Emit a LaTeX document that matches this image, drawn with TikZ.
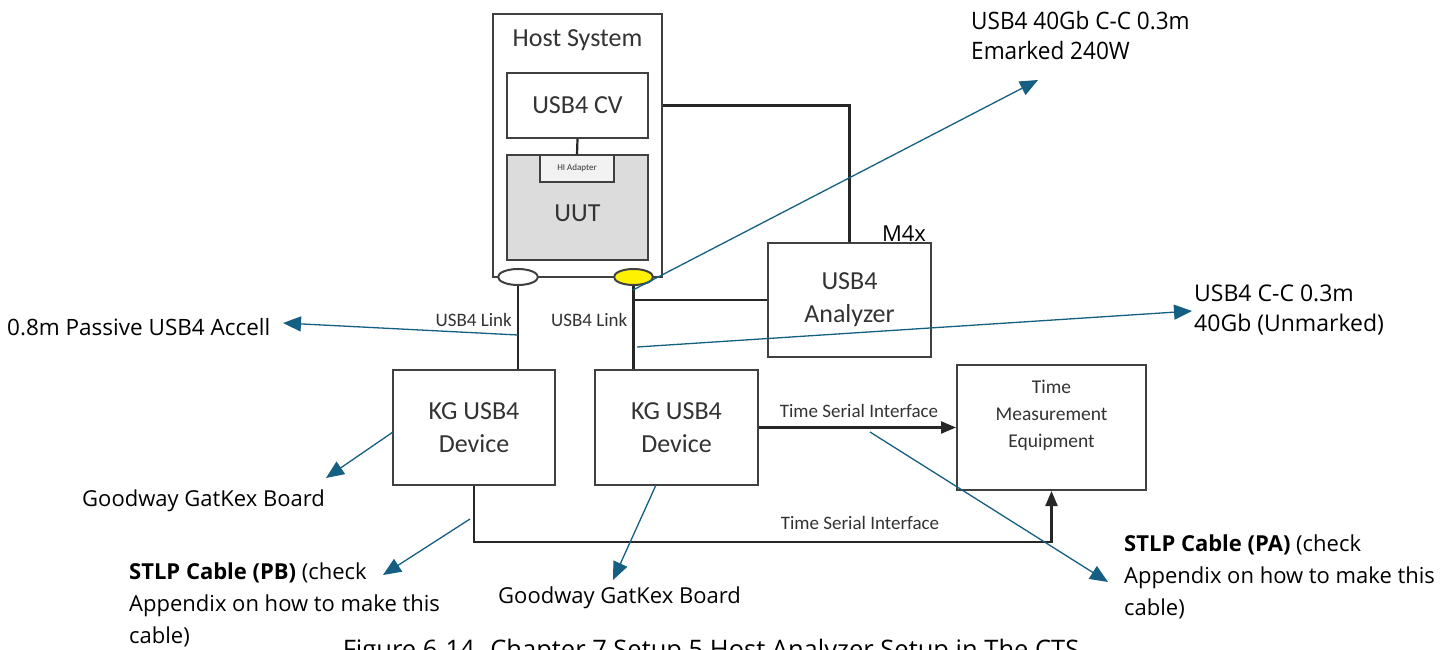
\documentclass[tikz,border=0pt]{standalone}
\usepackage{fontspec}
\setmainfont{Carlito}
\newfontfamily\ann{Open Sans}
\newfontfamily\annn[FakeStretch=0.94]{Open Sans}
\usetikzlibrary{arrows.meta,shapes.geometric}
\definecolor{ablue}{RGB}{21,96,130}
\definecolor{boxgray}{RGB}{64,64,64}
\definecolor{uutgray}{RGB}{220,220,220}
\definecolor{hiagray}{RGB}{242,242,242}
\begin{document}
\begin{tikzpicture}[x=1pt,y=-1pt,
  blk/.style={draw=boxgray,line width=2pt,fill=white,inner sep=0pt,align=center,
    font=\fontsize{26}{33}\selectfont,text=black!80},
  txt/.style={inner sep=0pt,align=center,text=black!80},
  lbl/.style={inner sep=0pt,font=\fontsize{19}{22}\selectfont,text=black!80},
  annot/.style={inner sep=0pt,font=\ann\fontsize{22}{32}\selectfont,align=left},
  annotn/.style={inner sep=0pt,font=\annn\fontsize{24}{30}\selectfont,align=left},
  conn/.style={line width=2.2pt,black!85},
  bar/.style={-{Triangle[length=15pt,width=12pt]},line width=2.2pt,black!85},
  callout/.style={ablue,line width=1.3pt,-{Triangle[length=18pt,width=15pt]}}]
\clip (0,0) rectangle (1452,650);
\fill[white] (0,0) rectangle (1452,650);

% host system
\node[blk,minimum width=169pt,minimum height=263pt] (host) at (577.5,145.5) {};
\node[txt,font=\fontsize{26}{30}\selectfont] (hostlbl) at (577.5,40) {Host System};
\node[blk,minimum width=141pt,minimum height=65pt] (cv) at (577.5,105.5) {USB4 CV};
\node[blk,fill=uutgray,minimum width=141pt,minimum height=105pt] (uut) at (577.5,207.5) {};
\node[txt,font=\fontsize{26}{30}\selectfont] (uutlbl) at (577.5,213) {UUT};
\node[blk,fill=hiagray,line width=1.4pt,minimum width=74pt,minimum height=27pt,font=\fontsize{9}{10}\selectfont] (hia) at (577,168.5) {HI Adapter};
\draw[conn] (cv.south) -- (hia.north);

% cable ellipses
\node[draw=boxgray,line width=2pt,fill=white,ellipse,minimum width=40pt,minimum height=16pt,inner sep=0pt] (ell1) at (518,277) {};
\node[draw=boxgray,line width=2pt,fill=yellow,ellipse,minimum width=39pt,minimum height=16pt,inner sep=0pt] (ell2) at (633.5,277) {};

% analyzer
\node[blk,minimum width=163pt,minimum height=114pt] (ana) at (849.5,300) {USB4\\Analyzer};
\node[annot,anchor=base] (m4x) at (904,241) {M4x};

% devices
\node[blk,minimum width=162pt,minimum height=115pt] (kg1) at (474,427.5) {KG USB4\\Device};
\node[blk,minimum width=163pt,minimum height=115pt] (kg2) at (676.5,427.5) {KG USB4\\Device};
\node[blk,minimum width=189pt,minimum height=125pt] (tme) at (1051.5,427.5) {};
\node[txt,font=\fontsize{19.5}{27}\selectfont] (tmelbl) at (1051.5,415.5) {Time\\Measurement\\Equipment};

% connections
\draw[conn] (host.east |- cv.center) -| (ana.north);
\draw[conn] (ell1.south) -- (ell1.south |- kg1.north);
\draw[conn] (ell2.south) -- (ell2.south |- kg2.north);
\draw[conn] (ell2.south |- ana.west) -- (ana.west);
\draw[bar] (kg2.east) -- (tme.west);
\coordinate (tsi) at (474,542);
\draw[bar] (kg1.south) -- (tsi) -| (tme.south);

\node[lbl,anchor=east] (link1) at (512,320) {USB4 Link};
\node[lbl,anchor=west] (link2) at (551,320) {USB4 Link};
\node[lbl] (tsi1) at (859,411) {Time Serial Interface};
\node[lbl] (tsi2) at (860,523) {Time Serial Interface};

% annotation texts
\node[annot,anchor=west,font=\ann\fontsize{22.5}{32}\selectfont] (acc) at (7,327) {0.8m Passive USB4 Accell};
\node[annotn,anchor=north west] (em) at (971,11) {USB4 40Gb C-C 0.3m\\Emarked 240W};
\node[annot,anchor=north west,font=\ann\fontsize{23}{30}\selectfont] (unm) at (1194,285) {USB4 C-C 0.3m\\40Gb (Unmarked)};
\node[annot,anchor=west] (gw1) at (82,501) {Goodway GatKex Board};
\node[annot,anchor=north west] (pb) at (129,563) {\textbf{STLP Cable (PB)} (check\\Appendix on how to make this\\cable)};
\node[annot,anchor=west] (gw2) at (498,598) {Goodway GatKex Board};
\node[annot,anchor=north west] (pa) at (1124,535) {\textbf{STLP Cable (PA)} (check\\Appendix on how to make this\\cable)};
\node[annot,anchor=base,font=\ann\fontsize{25.5}{28}\selectfont] (cap) at (711,658) {Figure 6-14. Chapter 7 Setup 5 Host Analyzer Setup in The CTS};

% callout arrows
\coordinate (s1) at (518,335); \coordinate (t1) at (283,323);
\coordinate (s2) at (633,290); \coordinate (t2) at (1038,80);
\coordinate (s3) at (637,347); \coordinate (t3) at (1192,311);
\coordinate (s4) at (393,432); \coordinate (t4) at (326,478);
\coordinate (s5) at (470,519); \coordinate (t5) at (383,575);
\coordinate (s6) at (656,485); \coordinate (t6) at (613,580);
\coordinate (s7) at (870,432); \coordinate (t7) at (1108,582);
\foreach \i in {1,...,7} { \draw[callout] (s\i) -- (t\i); }
\end{tikzpicture}
\end{document}
